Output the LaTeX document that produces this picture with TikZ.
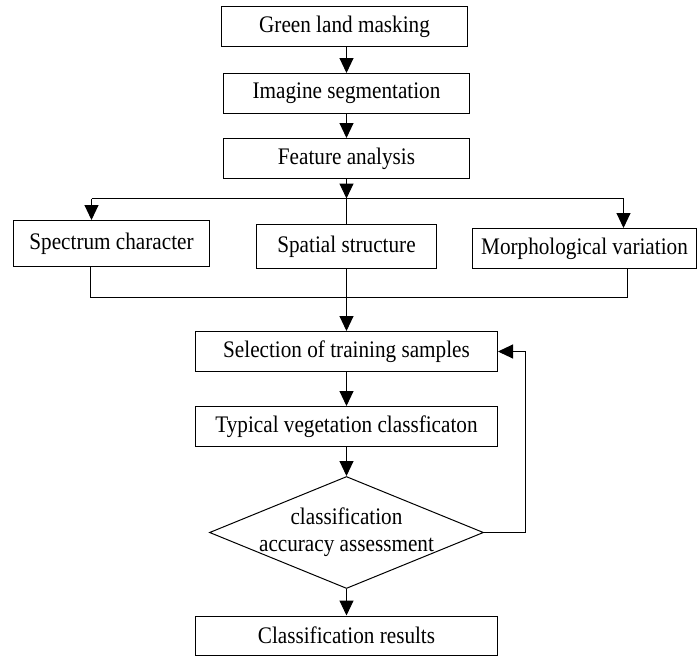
\documentclass[tikz,border=0pt]{standalone}
\usepackage{fontspec}
\usepackage{graphicx}
\setmainfont{Liberation Serif}
\usetikzlibrary{arrows.meta,shapes.geometric}
\newcommand{\tallt}[1]{\scalebox{1}[1.12]{#1}}
\begin{document}
\begin{tikzpicture}[x=1pt,y=-1pt,
 txt/.style={font=\fontsize{21.2}{24}\selectfont},
 box/.style={txt, draw, line width=1pt, inner sep=0pt},
 arr/.style={-{Triangle[length=15pt,width=14pt]}, line width=1pt},
 ln/.style={line width=1pt}]
\useasboundingbox (0,0) rectangle (697,657);
\node[box, minimum width=246, minimum height=40] (green) at (344.5,26.5) {\tallt{Green land masking}};
\node[box, minimum width=246, minimum height=40] (imag) at (346.5,93.5) {\tallt{Imagine segmentation}};
\node[box, minimum width=246, minimum height=40] (feat) at (346.5,158.5) {\tallt{Feature analysis}};
\node[box, minimum width=196, minimum height=46] (spec) at (111.5,243.5) {\tallt{Spectrum character}};
\node[box, minimum width=180, minimum height=44] (spat) at (346.5,246.5) {\tallt{Spatial structure}};
\node[box, minimum width=224, minimum height=40] (morph) at (584.5,248.5) {\tallt{Morphological variation}};
\node[box, minimum width=302, minimum height=40] (sel) at (346.5,351.5) {\tallt{Selection of training samples}};
\node[box, minimum width=302, minimum height=40] (typ) at (346.5,426.5) {\tallt{Typical vegetation classficaton}};
\node[draw, diamond, line width=1pt, inner sep=0pt, minimum width=274, minimum height=112] (dia) at (346.5,532.5) {};
\node[txt, inner sep=0pt] (diatext) at (dia.center) {\tallt{\begin{tabular}{@{}c@{}}classification\\accuracy assessment\end{tabular}}};
\node[box, minimum width=302, minimum height=39] (res) at (346.5,635.5) {\tallt{Classification results}};

\coordinate (j1) at (346.5,198.5);
\coordinate (jl) at (91.5,198.5);
\coordinate (jr) at (623.5,198.5);
\coordinate (j2) at (346.5,297.5);
\coordinate (kl) at (90.5,297.5);
\coordinate (kr) at (627.5,297.5);
\coordinate (fb1) at (525.5,532.5);
\coordinate (fb2) at (525.5,351.5);

\draw[arr] (green.south -| imag.north) -- (imag.north);
\draw[arr] (imag.south) -- (feat.north);
\draw[arr] (feat.south) -- (j1);
\draw[ln] (jl) -- (jr);
\draw[arr] (jl) -- (jl |- spec.north);
\draw[arr] (jr) -- (jr |- morph.north);
\draw[ln] (j1) -- (j1 |- spat.north);
\draw[ln] (kl |- spec.south) -- (kl) -- (kr) -- (kr |- morph.south);
\draw[ln] (spat.south -| j2) -- (j2);
\draw[arr] (j2) -- (sel.north);
\draw[arr] (sel.south) -- (typ.north);
\draw[arr] (typ.south) -- (dia.north);
\draw[arr] (dia.south) -- (res.north);
\draw[arr] (dia.east) -- (fb1) -- (fb2) -- (fb2 -| sel.east);
\end{tikzpicture}
\end{document}
